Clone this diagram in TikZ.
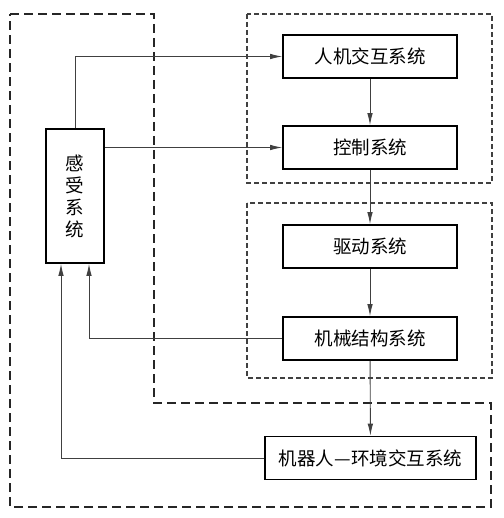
\documentclass[tikz,border=0pt]{standalone}
\usepackage{fontspec}
\newfontfamily\cjk{Noto Sans CJK SC}
\usetikzlibrary{arrows.meta}
\tikzset{
    sys/.style={draw=black, line width=1.6pt, minimum height=43pt, inner sep=0pt,
                font=\cjk\fontsize{18.5}{22}\selectfont},
    feed/.style={draw=black!75, line width=0.9pt, -{Latex[length=12pt,width=5.5pt]}},
    outer/.style={draw=black!85, line width=1.6pt, dash pattern=on 9pt off 5pt},
    group/.style={draw=black!75, line width=1.2pt, dash pattern=on 5pt off 3pt}
}

\begin{document}
\begin{tikzpicture}
  [
    x = 1pt,
    y = -1pt,
  ]
  \useasboundingbox (0,0) rectangle (503,518);
  % dashed regions
  \draw [outer] (10,14) -- (154,14) -- (154,403) -- (491,403) -- (491,507) -- (10,507) -- cycle;
  \draw [group] (247,14) rectangle (492,183);
  \draw [group] (247,203) rectangle (492,378);
  % systems
  \node [sys, minimum width=174pt] (hmi)   at (370,56.5)  {人机交互系统};
  \node [sys, minimum width=174pt] (ctrl)  at (370,147.5) {控制系统};
  \node [sys, minimum width=174pt] (drive) at (370,246.5) {驱动系统};
  \node [sys, minimum width=174pt] (mech)  at (370,338.5) {机械结构系统};
  \node [sys, minimum width=211pt] (env)   at (370.5,458) {机器人—环境交互系统};
  \node [sys, minimum width=58pt, minimum height=134pt, align=center] (sense) at (75,196)
        {感\\受\\系\\统};
  % main chain
  \foreach \a/\b in {hmi/ctrl, ctrl/drive, drive/mech, mech/env}
    \draw [feed] (\a) -- (\b);
  % sensing
  \draw [feed] (sense.north) |- (hmi.west);
  \draw [feed] (sense.east |- ctrl.west) -- (ctrl.west);
  \draw [feed] (mech.west) -| ([xshift=14pt]sense.south);
  \draw [feed] (env.west) -| ([xshift=-14pt]sense.south);
\end{tikzpicture}
\end{document}
